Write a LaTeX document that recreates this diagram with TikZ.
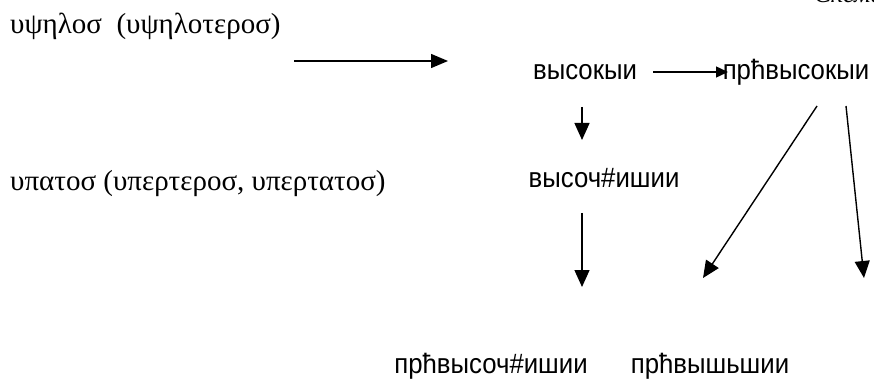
\documentclass[tikz,border=0pt]{standalone}
\usepackage{fontspec}
\setmainfont{Liberation Serif}
\newfontfamily\cyrsans[FakeStretch=0.92]{Liberation Sans}
\newfontfamily\greekserif[Script=Greek]{Liberation Serif}
\usetikzlibrary{arrows.meta}
\begin{document}
\begin{tikzpicture}[x=1pt,y=-1pt,
  greek/.style={anchor=base west,inner sep=0pt,font=\greekserif\fontsize{29}{34}\selectfont},
  slav/.style={anchor=base,inner sep=0pt,font=\cyrsans\fontsize{28}{33}\selectfont},
  arr/.style={line width=1.4pt,-{Triangle[width=15pt,length=17pt]}},
  arrsmall/.style={line width=1.4pt,-{Triangle[width=11pt,length=12pt]}},
  arrmid/.style={line width=1.4pt,-{Triangle[width=14pt,length=17pt]}}]
\useasboundingbox (0,0) rectangle (874,379);

% caption, cut off at the top edge
\node[anchor=base west,inner sep=0pt,font=\itshape\fontsize{26}{30}\selectfont] (cap) at (814,3) {Схема};

% Greek forms
\node[greek] (g1) at (10,34) {υψηλοσ\ \ (υψηλοτεροσ)};
\node[greek] (g2) at (10,191) {υπατοσ (υπερτεροσ, υπερτατοσ)};

% Slavonic forms
\node[slav] (vys)  at (585,80)  {высокыи};
\node[slav] (pvys) at (796,80)  {прћвысокыи};
\node[slav] (vch)  at (604,188) {высоч\#ишии};
\node[slav] (pvch) at (491,373) {прћвысоч\#ишии};
\node[slav] (pvsh) at (710,373) {прћвышьшии};

% connector end points
\coordinate (a1s) at (294,61);  \coordinate (a1e) at (448,61);
\coordinate (a2s) at (653,72);  \coordinate (a2e) at (728,72);
\coordinate (d1s) at (582,107); \coordinate (d1e) at (582,140);
\coordinate (d2s) at (582,213); \coordinate (d2e) at (582,287);
\coordinate (dgs) at (817,106); \coordinate (dge) at (703,278);
\coordinate (rts) at (846,106); \coordinate (rte) at (864,278);

\draw[arrmid]   (a1s) -- (a1e);
\draw[arrsmall] (a2s) -- (a2e);
\draw[arr] (d1s) -- (d1e);
\draw[arr] (d2s) -- (d2e);
\draw[arr] (dgs) -- (dge);
\draw[arr] (rts) -- (rte);
\end{tikzpicture}
\end{document}
